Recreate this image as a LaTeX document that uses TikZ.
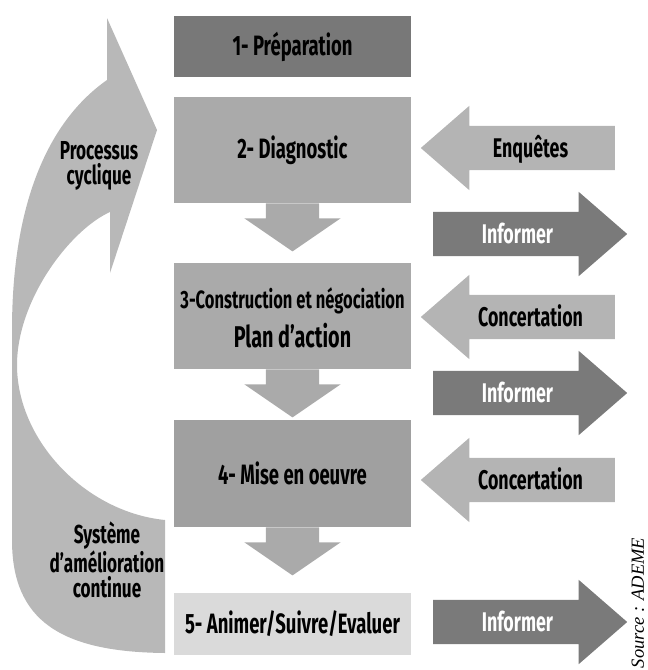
\documentclass[tikz,border=0pt]{standalone}
\usepackage{fontspec}
\setmainfont{Fira Sans}[FakeStretch=0.66]
\newfontfamily\srcfont{Liberation Serif}
\usetikzlibrary{shapes.arrows}

\definecolor{gPrep}{HTML}{787878}
\definecolor{gEtape}{HTML}{AAAAAA}
\definecolor{gMise}{HTML}{A0A0A0}
\definecolor{gAnim}{HTML}{DADADA}
\definecolor{gEntree}{HTML}{B4B4B4}
\definecolor{gInfo}{HTML}{7A7A7A}
\definecolor{gCycle}{HTML}{B8B8B8}

\tikzset{
	etape/.style={minimum width=237pt, inner sep=0pt, align=center,
		font=\bfseries\fontsize{28}{30}\selectfont},
	etapetxt/.style={anchor=base, inner sep=0pt, font=\bfseries\fontsize{#1}{#1}\selectfont},
	descente/.style={single arrow, fill=gEtape, shape border rotate=270, anchor=tail,
		minimum height=48pt, minimum width=96pt, inner xsep=26.5pt, inner ysep=0pt,
		single arrow head extend=21.5pt, single arrow tip angle=111},
	fleche/.style={single arrow, anchor=tail, minimum height=194pt, minimum width=84pt,
		inner xsep=0pt, inner ysep=11pt, text height=20pt, text depth=2pt,
		single arrow head extend=20pt, single arrow tip angle=82,
		font=\bfseries\fontsize{27}{27}\selectfont},
	entree/.style={fleche, fill=gEntree, shape border rotate=180},
	sortie/.style={fleche, fill=gInfo, text=white},
	cycletxt/.style={align=center, inner sep=0pt, font=\bfseries\fontsize{26}{25}\selectfont}
}

\begin{document}
\begin{tikzpicture}[x=1pt,y=-1pt]
	\useasboundingbox (0,0) rectangle (648,670);
	% fleche du processus cyclique
	\fill[gCycle] (107,18) -- (157,130) -- (110,273) -- (110,212)
		.. controls (70,230) and (17,300) .. (17,365)
		.. controls (17,440) and (85,512) .. (165,520) -- (165,653)
		.. controls (60,652) and (12,620) .. (12,540) -- (12,330)
		.. controls (12,200) and (50,120) .. (107,80) -- cycle;
	\node[cycletxt] (proc) at (99,166) {Processus\\cyclique};
	\node[cycletxt] (amel) at (107,560) {Système\\d’amélioration\\continue};

	% etapes
	\node[etape, fill=gPrep, minimum height=61pt] (b1) at (292.5,46.5) {1- Préparation};
	\node[etape, fill=gEtape, minimum height=106pt] (b2) at (292.5,150) {2- Diagnostic};
	\node[etape, fill=gEtape, minimum height=106pt] (b3) at (292.5,316) {};
	\node[etapetxt=25] (b3a) at (292.5,308) {3-Construction et négociation};
	\node[etapetxt=30] (b3b) at (292.5,347) {Plan d’action};
	\node[etape, fill=gMise, minimum height=107pt] (b4) at (292.5,473.5) {4- Mise en oeuvre};
	\node[etape, fill=gAnim, minimum height=62pt] (b5) at (292.5,624) {5- Animer/Suivre/Evaluer};
	\node[descente] (d23) at (b2.south) {};
	\node[descente] (d34) at (b3.south) {};
	\node[descente] (d45) at (b4.south) {};

	% echanges
	\node[entree] (enq) at (615,148) {Enquêtes};
	\node[sortie] (inf1) at (433,234) {Informer};
	\node[entree] (conc1) at (615,317) {Concertation};
	\node[sortie] (inf2) at (433,393) {Informer};
	\node[entree] (conc2) at (615,480) {Concertation};
	\node[sortie] (inf3) at (433,622) {Informer};

	\node[rotate=90, inner sep=0pt, font=\srcfont\itshape\fontsize{18.5}{18.5}\selectfont] (src) at (638,603) {Source : ADEME};
\end{tikzpicture}
\end{document}
